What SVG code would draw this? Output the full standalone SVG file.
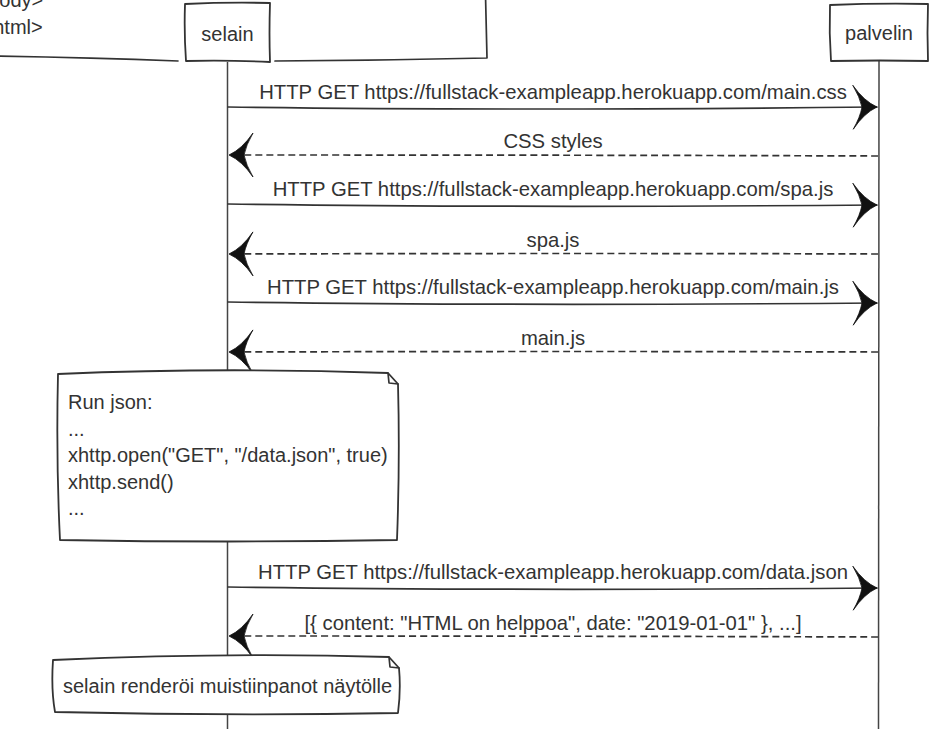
<svg xmlns="http://www.w3.org/2000/svg" width="939" height="729" viewBox="0 0 939 729">
  <style>
    .ln { fill: none; stroke: #333; stroke-width: 1.7; stroke-linecap: round; stroke-linejoin: round; }
    .life { fill: none; stroke: #444; stroke-width: 1.5; }
    .dash { stroke-dasharray: 7 4; stroke-linecap: butt; }
    .shape { fill: #fff; stroke: #333; stroke-width: 1.8; stroke-linejoin: round; }
    .txt { font-family: "Liberation Sans", Arial, Helvetica, sans-serif; font-size: 20px; fill: #333; }
    .lbl { font-size: 20.3px; }
    .mid { text-anchor: middle; }
  </style>
  <defs>
    <!-- barbed sketch arrowhead, tip at the origin, pointing along +x -->
    <marker id="barb" markerUnits="userSpaceOnUse" markerWidth="30" markerHeight="50" viewBox="-27 -25 30 50" refX="0" refY="0" orient="auto" overflow="visible">
      <path d="M0,0 Q-13,-6 -24,-22 Q-17,-10 -15,0 Q-17,10 -24,22 Q-13,6 0,0 Z" fill="#111" stroke="#111" stroke-width="0.8"/>
    </marker>
  </defs>

  <!-- lifelines -->
  <g id="lifelines">
    <path class="life" d="M227.5,62 Q226.8,400 227.5,729"/>
    <path class="life" d="M879,61 Q880,400 878.5,729"/>
  </g>

  <!-- page note continuing off the top-left edge -->
  <g id="note-html">
    <text class="txt" x="-29" y="7">&lt;/body&gt;</text>
    <text class="txt" x="-24" y="34">&lt;/html&gt;</text>
    <path class="ln" d="M-5,56 Q90,57.5 178,61"/>
    <path class="ln" d="M275,61 Q380,60.5 487,58 L485.5,-5"/>
  </g>

  <!-- participants -->
  <g id="selain">
    <path class="shape" d="M185,4 Q228,2 270,3 Q269,33 270,62 Q228,60 186,61 Q184,33 185,4 Z"/>
    <text class="txt mid" x="227.5" y="41">selain</text>
  </g>
  <g id="palvelin">
    <path class="shape" d="M830,5 Q880,3 928,4 Q927,33 928,61 Q880,60 831,61 Q829,33 830,5 Z"/>
    <text class="txt mid" x="879" y="40">palvelin</text>
  </g>

  <!-- messages -->
  <g id="messages">
    <path class="ln" d="M228,107 Q500,111 877,107" marker-end="url(#barb)"/>
    <text class="txt lbl mid" x="553" y="99">HTTP GET https://fullstack-exampleapp.herokuapp.com/main.css</text>

    <path class="ln dash" d="M878,156 Q600,155 229,155" marker-end="url(#barb)"/>
    <text class="txt lbl mid" x="553" y="148">CSS styles</text>

    <path class="ln" d="M228,204 Q500,208 877,205" marker-end="url(#barb)"/>
    <text class="txt lbl mid" x="553" y="196">HTTP GET https://fullstack-exampleapp.herokuapp.com/spa.js</text>

    <path class="ln dash" d="M878,254 Q600,253 229,254" marker-end="url(#barb)"/>
    <text class="txt lbl mid" x="553" y="247">spa.js</text>

    <path class="ln" d="M228,302 Q500,306 877,303" marker-end="url(#barb)"/>
    <text class="txt lbl mid" x="553" y="294">HTTP GET https://fullstack-exampleapp.herokuapp.com/main.js</text>

    <path class="ln dash" d="M878,352 Q600,351 229,352" marker-end="url(#barb)"/>
    <text class="txt lbl mid" x="553" y="345">main.js</text>

    <path class="ln" d="M228,587 Q500,591 877,588" marker-end="url(#barb)"/>
    <text class="txt lbl mid" x="553" y="579">HTTP GET https://fullstack-exampleapp.herokuapp.com/data.json</text>

    <path class="ln dash" d="M878,637 Q600,636 229,636" marker-end="url(#barb)"/>
    <text class="txt lbl mid" x="553" y="630">[{ content: "HTML on helppoa", date: "2019-01-01" }, ...]</text>
  </g>

  <!-- notes on the browser lifeline -->
  <g id="note-run-json">
    <path class="shape" d="M58,374 Q220,367 388,373 L398,384 Q400,460 397,540 Q230,543 60,540 Q56,460 58,374 Z"/>
    <path class="ln" d="M388,373 L389,383 L398,384" stroke-width="1.3"/>
    <text class="txt" x="68" y="409">Run json:</text>
    <text class="txt" x="68" y="435.5">...</text>
    <text class="txt" x="68" y="462">xhttp.open("GET", "/data.json", true)</text>
    <text class="txt" x="68" y="488.5">xhttp.send()</text>
    <text class="txt" x="68" y="515">...</text>
  </g>
  <g id="note-render">
    <path class="shape" d="M53,660 Q230,652 389,657 L399,668 Q401,690 398,713 Q230,716 55,712 Q51,690 53,660 Z"/>
    <path class="ln" d="M389,657 L390,667 L399,668" stroke-width="1.3"/>
    <text class="txt" x="63" y="693">selain renderöi muistiinpanot näytölle</text>
  </g>
</svg>
